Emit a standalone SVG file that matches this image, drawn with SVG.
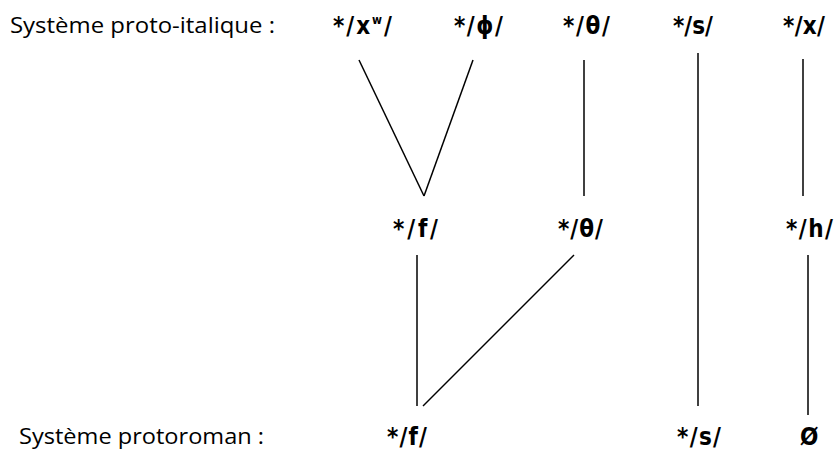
<svg xmlns="http://www.w3.org/2000/svg" width="836" height="450" viewBox="0 0 836 450">
<style>
.lab{font-family:"Open Sans","Noto Sans",sans-serif;font-size:21px;fill:#000}
.ph{font-family:"DejaVu Sans Condensed","DejaVu Sans",sans-serif;font-stretch:condensed;font-size:24px;font-weight:bold;fill:#000}
.ln{stroke:#000;stroke-width:1.5;fill:none}
</style>
<rect width="836" height="450" fill="#fff"/>
<g id="label-protoitalique"><text class="lab" x="10" y="33" textLength="265" lengthAdjust="spacingAndGlyphs">Système proto-italique :</text></g>
<g id="label-protoroman"><text class="lab" x="19" y="444" textLength="245" lengthAdjust="spacingAndGlyphs">Système protoroman :</text></g>
<g id="n-xw"><text class="ph" x="333" y="34" letter-spacing="2">*/x<tspan font-size="12" dy="-10">w</tspan><tspan dy="10">/</tspan></text></g>
<g id="n-phi"><text class="ph" x="454" y="34" textLength="49" lengthAdjust="spacing">*/ɸ/</text></g>
<g id="n-theta1"><text class="ph" x="563" y="34" textLength="47" lengthAdjust="spacing">*/θ/</text></g>
<g id="n-s1"><text class="ph" x="673" y="34" textLength="40" lengthAdjust="spacing">*/s/</text></g>
<g id="n-x"><text class="ph" x="783" y="34" textLength="42" lengthAdjust="spacing">*/x/</text></g>
<g id="n-f1"><text class="ph" x="393" y="237" textLength="45" lengthAdjust="spacing">*/f/</text></g>
<g id="n-theta2"><text class="ph" x="558" y="237" textLength="45" lengthAdjust="spacing">*/θ/</text></g>
<g id="n-h"><text class="ph" x="786" y="237" textLength="47" lengthAdjust="spacing">*/h/</text></g>
<g id="n-f2"><text class="ph" x="387" y="445" textLength="40" lengthAdjust="spacing">*/f/</text></g>
<g id="n-s2"><text class="ph" x="677" y="445" textLength="44" lengthAdjust="spacing">*/s/</text></g>
<g id="n-zero"><text class="ph" x="800" y="445">Ø</text></g>
<g id="connectors">
<line class="ln" x1="359" y1="60" x2="424" y2="196"/>
<line class="ln" x1="473" y1="60" x2="424" y2="196"/>
<line class="ln" x1="584" y1="60" x2="584" y2="196"/>
<line class="ln" x1="698" y1="53" x2="698" y2="406"/>
<line class="ln" x1="803" y1="59" x2="803" y2="196"/>
<line class="ln" x1="417" y1="255" x2="417" y2="406"/>
<line class="ln" x1="574" y1="255" x2="423" y2="406"/>
<line class="ln" x1="808" y1="255" x2="808" y2="415"/>
</g>
</svg>
